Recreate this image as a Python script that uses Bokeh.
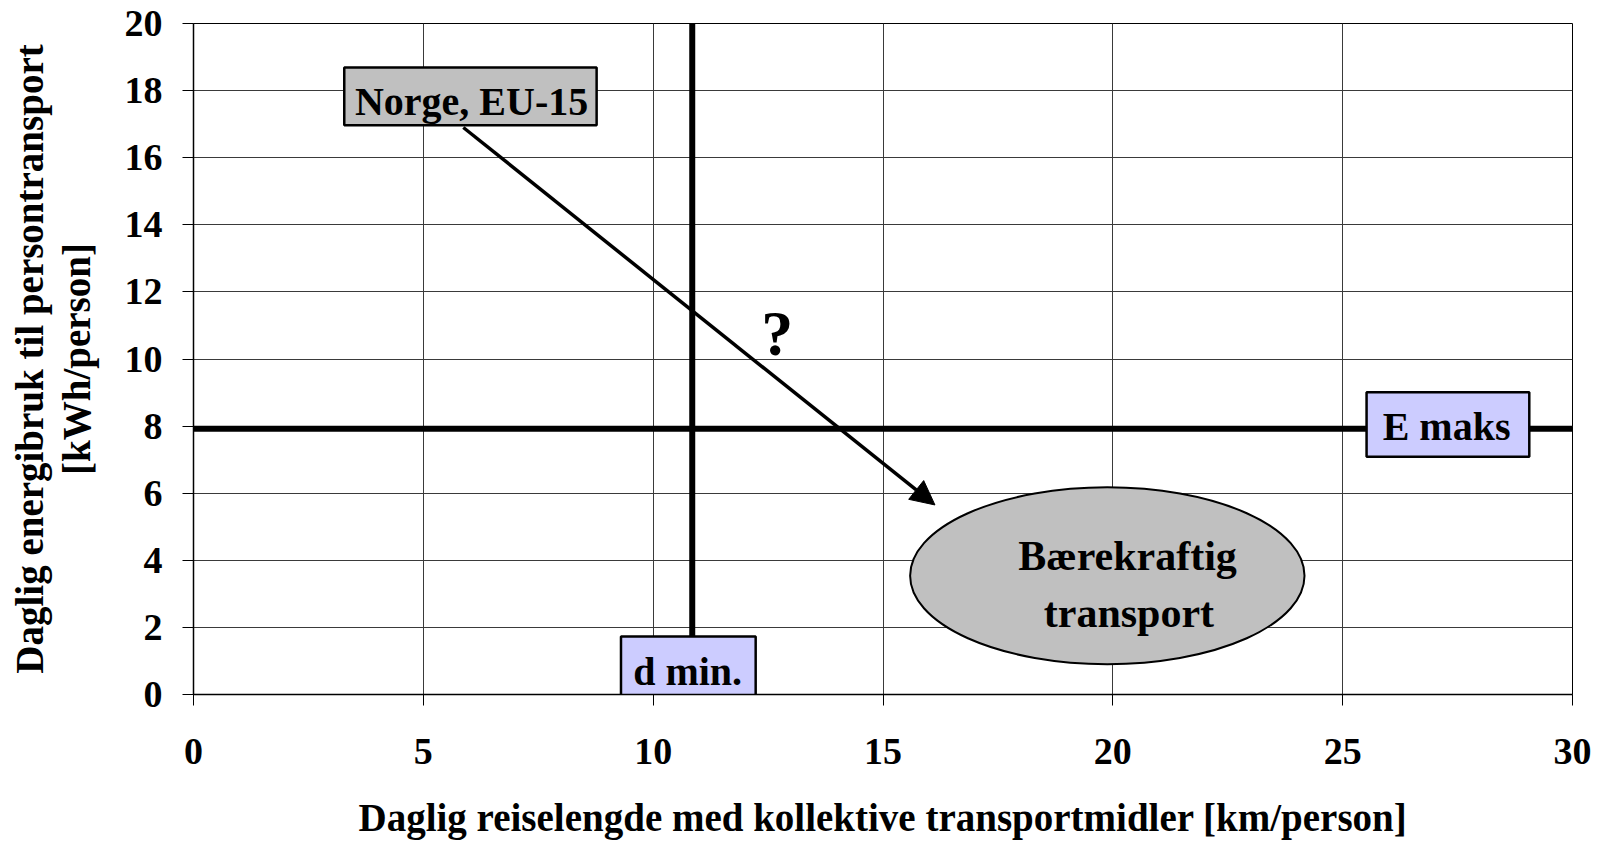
import numpy as np
from bokeh.plotting import figure
from bokeh.models import Arrow, NormalHead, FixedTicker, Range1d, PolyAnnotation
from bokeh.core.properties import value
from bokeh.embed import file_html
from bokeh.resources import INLINE

# ---- data ----
x_ticks = [0, 5, 10, 15, 20, 25, 30]
y_ticks = [0, 2, 4, 6, 8, 10, 12, 14, 16, 18, 20]

d_min_x = 10.85          # vertical threshold line (km/person)
d_min_y_range = [1.7, 20.3]
e_max_y = 7.92           # horizontal threshold line (kWh/person)
e_max_x_range = [0, 30]

arrow_start = [5.87, 16.90]
arrow_end = [16.13, 5.65]

box_names = ["Norge, EU-15", "d min.", "E maks"]
box_left = [3.28, 9.30, 25.52]
box_right = [8.77, 12.23, 29.06]
box_bottom = [16.97, -0.16, 7.09]
box_top = [18.69, 1.73, 9.01]
box_fill = ["#c0c0c0", "#ccccff", "#ccccff"]
box_text_x = [6.05, 10.75, 27.26]
box_text_y = [17.31, 0.33, 7.62]

ellipse_center = [19.88, 3.54]
ellipse_size = [8.58, 5.27]
ellipse_lines = ["Bærekraftig", "transport"]
ellipse_text_x = [20.32, 20.35]
ellipse_text_y = [3.74, 2.05]

question_xy = [12.70, 10.16]

x_label = "Daglig reiselengde med kollektive transportmidler [km/person]"
y_label = "Daglig energibruk til persontransport\n[kWh/person]"

FONT = "Liberation Serif"

BL, FW, BT, FH = 193, 1379, 23, 671
p = figure(frame_width=FW, frame_height=FH,
           min_border_left=BL, min_border_right=29,
           min_border_top=BT, min_border_bottom=147,
           x_range=Range1d(0, 30), y_range=Range1d(0, 20),
           output_backend="svg", toolbar_location=None,
           background_fill_color="white", border_fill_color="white")

p.outline_line_color = "#000000"
p.outline_line_width = 1

for ax in (p.xaxis[0], p.yaxis[0]):
    ax.major_label_text_font = FONT
    ax.major_label_text_font_style = "bold"
    ax.major_label_text_font_size = "38px"
    ax.major_label_text_color = "black"
    ax.axis_label_text_font = FONT
    ax.axis_label_text_font_style = "bold"
    ax.axis_label_text_font_size = "39px"
    ax.axis_label_text_color = "black"
    ax.axis_label_text_line_height = 1.09
    ax.axis_line_color = "black"
    ax.axis_line_width = 1.5
    ax.major_tick_line_color = "black"
    ax.major_tick_line_width = 1
    ax.major_tick_out = 11
    ax.major_tick_in = 0
    ax.minor_tick_line_color = None

p.xaxis[0].ticker = FixedTicker(ticks=x_ticks)
p.yaxis[0].ticker = FixedTicker(ticks=y_ticks)
p.xaxis[0].axis_label = x_label
p.yaxis[0].axis_label = y_label
p.xaxis[0].major_label_standoff = 33
p.xaxis[0].axis_label_standoff = 29
p.yaxis[0].major_label_standoff = 20
p.yaxis[0].axis_label_standoff = 24
p.yaxis[0].major_label_orientation = "horizontal"

p.xgrid.ticker = FixedTicker(ticks=x_ticks)
p.ygrid.ticker = FixedTicker(ticks=y_ticks)
for g in (p.xgrid[0], p.ygrid[0]):
    g.grid_line_color = "#3a3a3a"
    g.grid_line_width = 1

# decorative teal disc edge in the top-left corner (slide background)
px_per_x = FW / 30.0
px_per_y = FH / 20.0
R = 341.0
arc_py = np.linspace(-5, 101, 30)
arc_px = 15 - R + np.sqrt(R**2 - arc_py**2)
dec_px = np.concatenate([[-5], arc_px, [-5]])
dec_py = np.concatenate([[-5], arc_py, [101]])
p.add_layout(PolyAnnotation(xs=list((dec_px - BL) / px_per_x),
                            ys=list(20 + (BT - dec_py) / px_per_y),
                            fill_color="#9dcfd0", fill_alpha=1.0, line_color=None,
                            level="underlay"))

# threshold lines
p.line(x=[d_min_x, d_min_x], y=d_min_y_range, line_color="black", line_width=6)
p.line(x=e_max_x_range, y=[e_max_y, e_max_y], line_color="black", line_width=6)

# arrow
p.add_layout(Arrow(x_start=arrow_start[0], y_start=arrow_start[1],
                   x_end=arrow_end[0], y_end=arrow_end[1],
                   line_color="black", line_width=3.5,
                   end=NormalHead(size=24, fill_color="black", line_color="black")))

# ellipse
p.ellipse(x=[ellipse_center[0]], y=[ellipse_center[1]],
          width=[ellipse_size[0]], height=[ellipse_size[1]],
          fill_color="#c0c0c0", line_color="black", line_width=2)
p.text(x=ellipse_text_x, y=ellipse_text_y, text=ellipse_lines,
       text_font=value(FONT), text_font_style="bold", text_font_size="42px",
       text_align="center", text_baseline="alphabetic", text_color="black",
       y_offset=-13)

# boxes
p.quad(left=box_left, right=box_right, bottom=box_bottom, top=box_top,
       fill_color=box_fill, line_color="black", line_width=2.5)
p.text(x=box_text_x, y=box_text_y, text=box_names,
       text_font=value(FONT), text_font_style="bold", text_font_size="40px",
       text_align="center", text_baseline="alphabetic", text_color="black",
       y_offset=-12)

# question mark
p.text(x=[question_xy[0]], y=[question_xy[1]], text=["?"],
       text_font=value(FONT), text_font_style="bold", text_font_size="64px",
       text_align="center", text_baseline="alphabetic", text_color="black",
       y_offset=-20)

open("out.html", "w").write(file_html(p, INLINE))
